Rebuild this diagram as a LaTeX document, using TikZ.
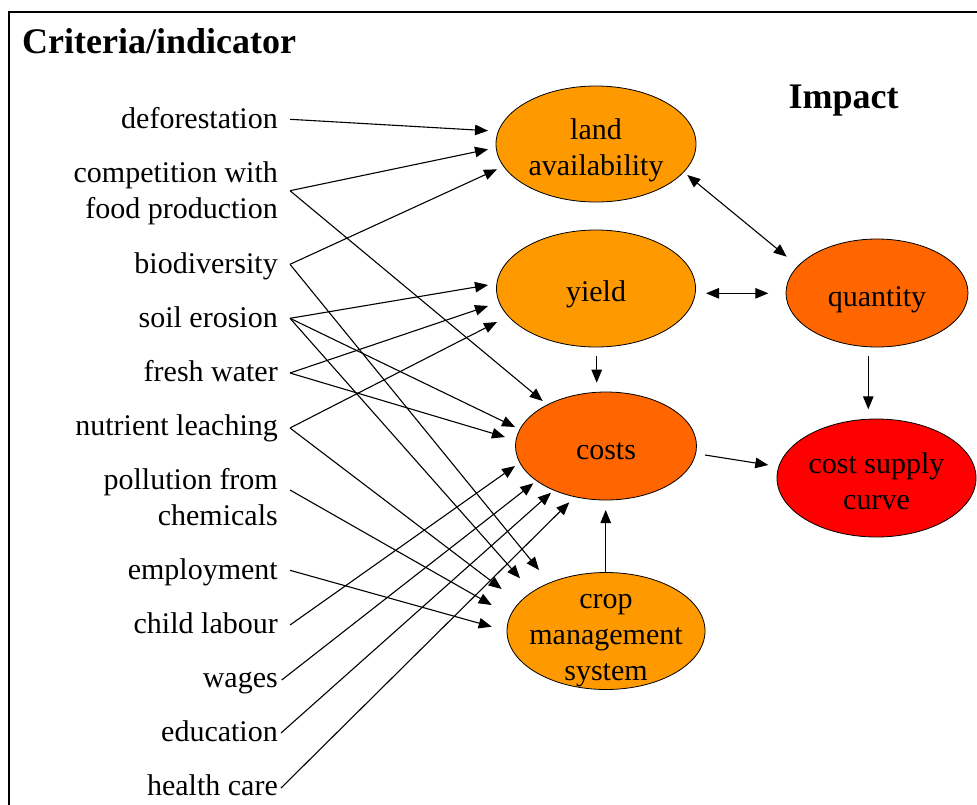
\documentclass[tikz,border=0pt]{standalone}
\usepackage{fontspec}
\setmainfont{Liberation Serif}
\usetikzlibrary{arrows.meta,shapes.geometric}
\definecolor{lightorange}{HTML}{FF9900}
\definecolor{darkorange}{HTML}{FF6600}
\definecolor{purered}{HTML}{FF0000}
\newcommand\lstrut{\rule[-7pt]{0pt}{36pt}}
\begin{document}
\begin{tikzpicture}[x=1pt,y=-1pt,
  lab/.style={anchor=east,inner sep=0pt,align=right,yshift=-2pt,font=\fontsize{30}{36}\selectfont},
  ell/.style={ellipse,draw=black,line width=0.8pt,inner sep=0pt},
  etext/.style={inner sep=0pt,align=center,yshift=-2pt,font=\fontsize{30}{36}\selectfont},
  head/.style={anchor=base west,inner sep=0pt,font=\fontsize{36}{43}\selectfont\bfseries},
  arr/.style={-{Triangle[length=13pt,width=10.5pt]},line width=1.1pt},
  darr/.style={{Triangle[length=13pt,width=10.5pt]}-{Triangle[length=13pt,width=10.5pt]},line width=1.1pt}]
\useasboundingbox (0,0) rectangle (977,804);
\draw[line width=1.5pt] (9,806) -- (9,12) -- (979,12);

% headings
\node[head] (crit) at (22,53.5) {Criteria/indicator};
\node[head] (impact) at (788.5,108.3) {Impact};

% ellipses
\node[ell,fill=lightorange,minimum width=200pt,minimum height=116pt,
  label={[etext]center:{\lstrut land\\\lstrut availability}}] (land) at (596,144) {};
\node[ell,fill=lightorange,minimum width=199pt,minimum height=117pt,
  label={[etext]center:{\lstrut yield}}] (yield) at (596,288.5) {};
\node[ell,fill=darkorange,minimum width=181pt,minimum height=108pt,
  label={[etext]center:{\lstrut costs}}] (costs) at (606,446) {};
\node[ell,fill=lightorange,minimum width=198pt,minimum height=117pt,
  label={[etext]center:{\lstrut crop\\\lstrut management\\\lstrut system}}] (crop) at (606,631) {};
\node[ell,fill=darkorange,minimum width=182pt,minimum height=108pt,
  label={[etext]center:{\lstrut quantity}}] (quant) at (877,293) {};
\node[ell,fill=purered,minimum width=199pt,minimum height=118pt,
  label={[etext]center:{\lstrut cost supply\\\lstrut curve}}] (csc) at (876.5,478) {};

% criteria labels
\node[lab] (defo) at (278,115) {\lstrut deforestation};
\node[lab] (comp) at (278,187.7) {\lstrut competition with\\\lstrut food production};
\node[lab] (biod) at (278,260.7) {\lstrut biodiversity};
\node[lab] (soil) at (278,314.7) {\lstrut soil erosion};
\node[lab] (fresh) at (278,368.7) {\lstrut fresh water};
\node[lab] (nutr) at (278,422.7) {\lstrut nutrient leaching};
\node[lab] (poll) at (278,494.7) {\lstrut pollution from\\\lstrut chemicals};
\node[lab] (empl) at (278,566.7) {\lstrut employment};
\node[lab] (child) at (278,620.7) {\lstrut child labour};
\node[lab] (wages) at (278,674.7) {\lstrut wages};
\node[lab] (edu) at (278,728.7) {\lstrut education};
\node[lab] (health) at (278,782.7) {\lstrut health care};

% start points
\coordinate (sDefo) at (290,119.3);
\coordinate (sComp) at (290,190.7);
\coordinate (sBiod) at (290,264.3);
\coordinate (sSoil) at (290,318.3);
\coordinate (sFresh) at (290,373);
\coordinate (sNutr) at (290,428);
\coordinate (sPoll) at (290,490);
\coordinate (sEmpl) at (290,570.3);
\coordinate (sChild) at (290,625);
\coordinate (sWages) at (281.7,680);
\coordinate (sEdu) at (281,733);
\coordinate (sHealth) at (281,788);

% tips at land
\coordinate (tLand1) at (488,130.7);
\coordinate (tLand2) at (488,149.3);
\coordinate (tLand3) at (497,169.3);
% tips at yield
\coordinate (tYield1) at (488,285);
\coordinate (tYield2) at (488,306);
\coordinate (tYield3) at (497,322);
% tips at costs
\coordinate (tCost1) at (542.7,401);
\coordinate (tCost2) at (515,427);
\coordinate (tCost3) at (505,437);
\coordinate (tCost4) at (515,466);
\coordinate (tCost5) at (533.3,483.3);
\coordinate (tCost6) at (551,492.7);
\coordinate (tCost7) at (569.3,502.3);
% tips at crop
\coordinate (tCrop1) at (539,570);
\coordinate (tCrop2) at (520,578.3);
\coordinate (tCrop3) at (501.7,589);
\coordinate (tCrop4) at (491.7,605);
\coordinate (tCrop5) at (491.7,626.7);

\draw[arr] (sDefo) -- (tLand1);
\draw[arr] (sComp) -- (tLand2);
\draw[arr] (sComp) -- (tCost1);
\draw[arr] (sBiod) -- (tLand3);
\draw[arr] (sBiod) -- (tCrop1);
\draw[arr] (sSoil) -- (tYield1);
\draw[arr] (sSoil) -- (tCost2);
\draw[arr] (sSoil) -- (tCrop2);
\draw[arr] (sFresh) -- (tYield2);
\draw[arr] (sFresh) -- (tCost3);
\draw[arr] (sNutr) -- (tYield3);
\draw[arr] (sNutr) -- (tCrop3);
\draw[arr] (sPoll) -- (tCrop4);
\draw[arr] (sEmpl) -- (tCrop5);
\draw[arr] (sChild) -- (tCost4);
\draw[arr] (sWages) -- (tCost5);
\draw[arr] (sEdu) -- (tCost6);
\draw[arr] (sHealth) -- (tCost7);

% impact connectors
\coordinate (lq1) at (687.3,175);
\coordinate (lq2) at (786.7,256.7);
\coordinate (yq1) at (706,293.3);
\coordinate (yq2) at (768.3,293.3);
\coordinate (qc1) at (868.3,356);
\coordinate (qc2) at (868.3,409.3);
\coordinate (cc1) at (705,455);
\coordinate (cc2) at (768.3,465);
\coordinate (yc1) at (596.7,356);
\coordinate (yc2) at (596.7,382.7);
\coordinate (mc1) at (605.7,572.7);
\coordinate (mc2) at (605.7,510);

\draw[darr] (lq1) -- (lq2);
\draw[darr] (yq1) -- (yq2);
\draw[arr] (qc1) -- (qc2);
\draw[arr] (cc1) -- (cc2);
\draw[arr] (yc1) -- (yc2);
\draw[arr] (mc1) -- (mc2);
\end{tikzpicture}
\end{document}
